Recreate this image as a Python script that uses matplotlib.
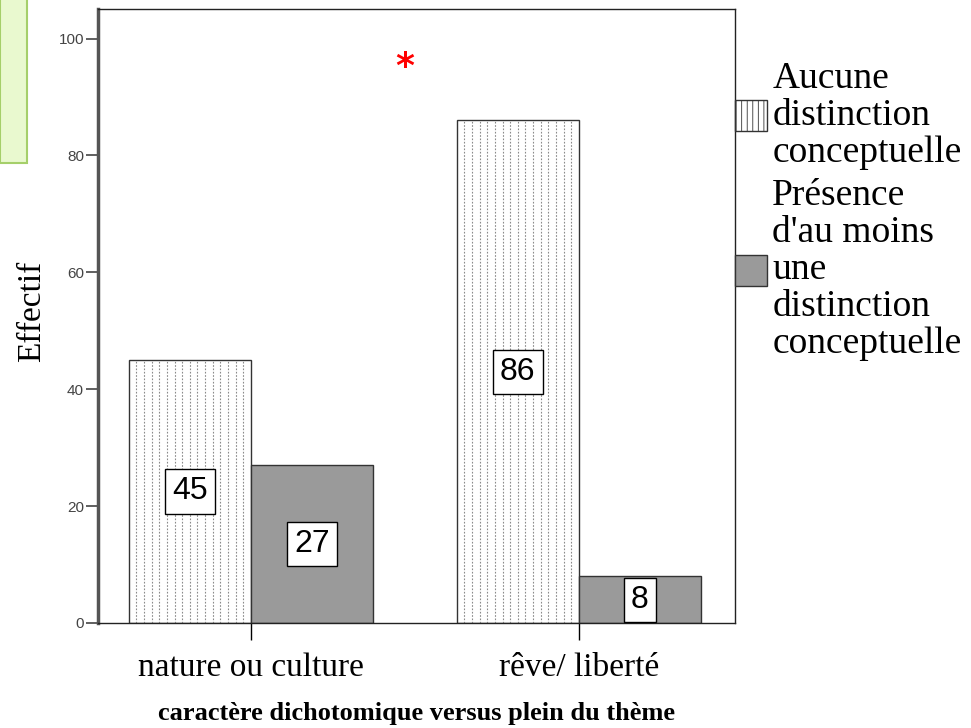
import numpy as np
import matplotlib
matplotlib.use("Agg")
import matplotlib.pyplot as plt
from matplotlib.patches import Rectangle, Patch

categories = ['nature ou culture', 'rêve/ liberté']
series_names = ['Aucune\ndistinction\nconceptuelle',
                "Présence\nd'au moins\nune\ndistinction\nconceptuelle"]
aucune = [45, 86]
presence = [27, 8]
yticks = [0, 20, 40, 60, 80, 100]

serif = 'Liberation Serif'
sans = 'Liberation Sans'
plt.rcParams['hatch.color'] = '#8a8a8a'
plt.rcParams['hatch.linewidth'] = 0.6

fig = plt.figure(figsize=(9.71, 7.28), dpi=100)
ax = fig.add_axes([98/971, 1 - 623/728, 637/971, 614/728])

# green box in top-left corner (slide artifact)
fig.patches.append(Rectangle((0, 1 - 163/728), 27/971, 170/728, transform=fig.transFigure,
                             facecolor='#e9f9cf', edgecolor='#a5cf6a', linewidth=1.5, zorder=0))

x = np.arange(len(categories))
w = 0.372
b1 = ax.bar(x - w/2, aucune, w, color='white', edgecolor='#333333', linewidth=1, zorder=2)
b2 = ax.bar(x + w/2, presence, w, color='#9a9a9a', edgecolor='#333333', linewidth=1, zorder=2)

# dotted vertical fill for the first series
for p in b1:
    xs = p.get_x() + p.get_width() * np.arange(1, 16) / 16
    lc = ax.vlines(xs, 0, p.get_height(), colors='#8a8a8a', linestyles=(0, (1.5, 1.5)),
                   linewidth=0.8, zorder=2.5)
    lc.set_clip_path(p)

for b in (b1, b2):
    ax.bar_label(b, label_type='center', fontsize=23, family=sans, zorder=5,
                 bbox=dict(boxstyle='square,pad=0.22', fc='white', ec='black', lw=1))

ax.set_xlim(-0.466, 1.476)
ax.set_ylim(0, 105.05)
ax.set_yticks(yticks)
ax.set_yticklabels([str(v) for v in yticks], fontsize=11, family=sans, color='#444444')
ax.set_xticks(x)
ax.set_xticklabels(categories, fontsize=24, family=serif)
ax.tick_params(axis='y', length=9, width=1.2, color='#444444', pad=1)
ax.tick_params(axis='x', length=12, width=1, pad=9)

ax.spines['left'].set_linewidth(2.5)
ax.spines['left'].set_color('#555555')
for s in ('top', 'right', 'bottom'):
    ax.spines[s].set_linewidth(1)
    ax.spines[s].set_color('#222222')

ax.set_ylabel('Effectif', fontsize=24, family=serif)
ax.yaxis.set_label_coords(-0.080, 0.508)
ax.set_xlabel('caractère dichotomique versus plein du thème', fontsize=19,
              family=serif, fontweight='bold', labelpad=14)

ax.text(0.482, 0.905, '*', transform=ax.transAxes, color='red', fontsize=26,
        fontweight='bold', ha='center', va='center')

handles = [Patch(facecolor='white', edgecolor='#333333', hatch='|||'),
           Patch(facecolor='#9a9a9a', edgecolor='#333333')]
leg = ax.legend(handles, series_names, loc='upper left', bbox_to_anchor=(1.0, 0.915),
                frameon=False, prop={'family': serif, 'size': 27}, borderpad=0,
                borderaxespad=0, handlelength=0.84, handleheight=0.9,
                handletextpad=0.15, labelspacing=0.22)
for t in leg.get_texts():
    t.set_linespacing(1.1)

fig.savefig('out.png', dpi=100)
